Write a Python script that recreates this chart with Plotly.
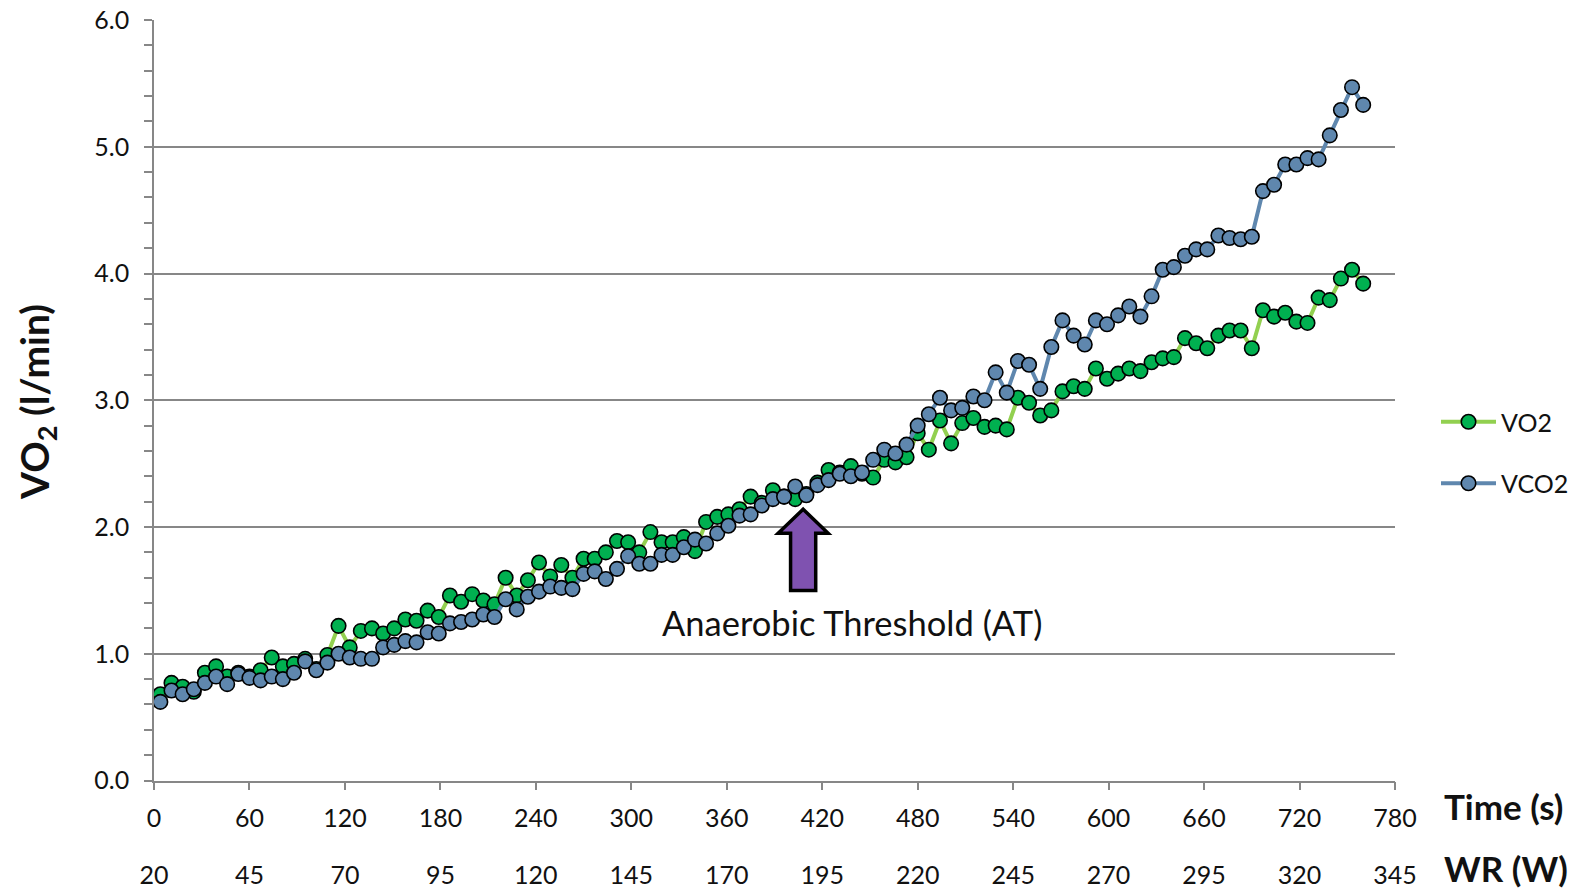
import plotly.graph_objects as go

# Sample times (s) of the breath-averaged gas exchange data
time_s = [
    4, 11, 18, 25, 32, 39, 46, 53, 60, 67, 74, 81, 88, 95, 102, 109, 116, 123,
    130, 137, 144, 151, 158, 165, 172, 179, 186, 193, 200, 207, 214, 221, 228,
    235, 242, 249, 256, 263, 270, 277, 284, 291, 298, 305, 312, 319, 326, 333,
    340, 347, 354, 361, 368, 375, 382, 389, 396, 403, 410, 417, 424, 431, 438,
    445, 452, 459, 466, 473, 480, 487, 494, 501, 508, 515, 522, 529, 536, 543,
    550, 557, 564, 571, 578, 585, 592, 599, 606, 613, 620, 627, 634, 641, 648,
    655, 662, 669, 676, 683, 690, 697, 704, 711, 718, 725, 732, 739, 746, 753,
    760,
]

# Oxygen uptake (l/min)
vo2 = [
    0.68, 0.77, 0.74, 0.70, 0.85, 0.90, 0.82, 0.85, 0.82, 0.87, 0.97, 0.90,
    0.92, 0.96, 0.88, 0.99, 1.22, 1.05, 1.18, 1.20, 1.16, 1.20, 1.27, 1.26,
    1.34, 1.29, 1.46, 1.41, 1.47, 1.42, 1.39, 1.60, 1.46, 1.58, 1.72, 1.61,
    1.70, 1.60, 1.75, 1.75, 1.80, 1.89, 1.88, 1.80, 1.96, 1.88, 1.88, 1.92,
    1.81, 2.04, 2.08, 2.10, 2.14, 2.24, 2.19, 2.29, 2.24, 2.22, 2.26, 2.35,
    2.45, 2.43, 2.48, 2.42, 2.39, 2.53, 2.51, 2.55, 2.74, 2.61, 2.84, 2.66,
    2.82, 2.86, 2.79, 2.80, 2.77, 3.02, 2.98, 2.88, 2.92, 3.07, 3.11, 3.09,
    3.25, 3.17, 3.21, 3.25, 3.23, 3.30, 3.33, 3.34, 3.49, 3.45, 3.41, 3.51,
    3.55, 3.55, 3.41, 3.71, 3.66, 3.69, 3.62, 3.61, 3.81, 3.79, 3.96, 4.03,
    3.92,
]

# Carbon dioxide output (l/min)
vco2 = [
    0.62, 0.71, 0.68, 0.72, 0.77, 0.82, 0.76, 0.84, 0.81, 0.79, 0.82, 0.80,
    0.85, 0.94, 0.87, 0.93, 1.00, 0.97, 0.96, 0.96, 1.05, 1.07, 1.10, 1.09,
    1.17, 1.16, 1.24, 1.25, 1.27, 1.31, 1.29, 1.43, 1.35, 1.45, 1.49, 1.53,
    1.52, 1.51, 1.63, 1.65, 1.59, 1.67, 1.77, 1.71, 1.71, 1.78, 1.78, 1.84,
    1.90, 1.87, 1.95, 2.01, 2.09, 2.10, 2.17, 2.22, 2.24, 2.32, 2.25, 2.33,
    2.37, 2.42, 2.40, 2.43, 2.53, 2.61, 2.58, 2.65, 2.80, 2.89, 3.02, 2.92,
    2.94, 3.03, 3.00, 3.22, 3.06, 3.31, 3.28, 3.09, 3.42, 3.63, 3.51, 3.44,
    3.63, 3.60, 3.67, 3.74, 3.66, 3.82, 4.03, 4.05, 4.14, 4.19, 4.19, 4.30,
    4.28, 4.27, 4.29, 4.65, 4.70, 4.86, 4.86, 4.91, 4.90, 5.09, 5.29, 5.47,
    5.33,
]

# Axis ticks: elapsed time and the matching ramp work rate
time_ticks = [0, 60, 120, 180, 240, 300, 360, 420, 480, 540, 600, 660, 720, 780]
wr_labels = ["20", "45", "70", "95", "120", "145", "170", "195", "220", "245",
             "270", "295", "320", "345"]

# Anaerobic threshold marker
at_time = 408
at_label = "Anaerobic Threshold (AT)"

FONT = "Lato"
TXT = "#111111"
AXIS_GREY = "#878787"
GREEN_LINE = "#92D050"
GREEN_FILL = "#00B050"
BLUE = "#5F87AE"
PURPLE = "#7F52B0"

W, H = 1583, 891
M_L, M_R, M_T, M_B = 154, 188, 20, 54
PW = W - M_L - M_R
PH = H - M_T - M_B
Y_BOTTOM_PX = 780.5


def paper_x(px):
    return (px - M_L) / PW


def paper_y(py):
    return (H - M_B - py) / PH


fig = go.Figure()

fig.add_trace(go.Scatter(
    x=time_s, y=vo2, name="VO2", mode="lines+markers",
    line=dict(color=GREEN_LINE, width=4),
    marker=dict(size=14.5, color=GREEN_FILL, line=dict(color="#000000", width=1.6)),
    legendgroup="a",
))
fig.add_trace(go.Scatter(
    x=time_s, y=vco2, name="VCO2", mode="lines+markers",
    line=dict(color=BLUE, width=4),
    marker=dict(size=14.5, color=BLUE, line=dict(color="#000000", width=1.6)),
    legendgroup="b",
))
# carrier for the work-rate tick row
fig.add_trace(go.Scatter(
    x=[time_ticks[0], time_ticks[-1]], y=[None, None], xaxis="x2",
    mode="lines", showlegend=False, hoverinfo="skip",
))

# Upward arrow pointing at the threshold
tip_y, head_y, tail_y = 2.14, 1.95, 1.50
head_hw, shaft_hw = 15.7, 7.9
arrow_path = (
    f"M {at_time},{tip_y} L {at_time + head_hw},{head_y} L {at_time + shaft_hw},{head_y} "
    f"L {at_time + shaft_hw},{tail_y} L {at_time - shaft_hw},{tail_y} "
    f"L {at_time - shaft_hw},{head_y} L {at_time - head_hw},{head_y} Z"
)
fig.add_shape(type="path", path=arrow_path, xref="x", yref="y",
              fillcolor=PURPLE, line=dict(color="#000000", width=3.5), layer="above")

fig.add_annotation(x=439, y=1.25, xref="x", yref="y", text=at_label,
                   showarrow=False, font=dict(family=FONT, size=34.5, color=TXT))

# axis titles
fig.add_annotation(x=paper_x(37), y=paper_y(402), xref="paper", yref="paper",
                   xanchor="center", yanchor="middle",
                   text="<b>VO<sub>2</sub> (l/min)</b>", textangle=-90, showarrow=False,
                   font=dict(family=FONT, size=39, color=TXT))
fig.add_annotation(x=paper_x(1442), y=paper_y(806), xref="paper", yref="paper",
                   text="<b>Time (s)</b>", xanchor="left", yanchor="middle",
                   showarrow=False, font=dict(family=FONT, size=35, color=TXT))
fig.add_annotation(x=paper_x(1442), y=paper_y(868), xref="paper", yref="paper",
                   text="<b>WR (W)</b>", xanchor="left", yanchor="middle",
                   showarrow=False, font=dict(family=FONT, size=35, color=TXT))

y_dom0 = paper_y(Y_BOTTOM_PX)

fig.update_layout(
    width=W, height=H,
    margin=dict(l=M_L, r=M_R, t=M_T, b=M_B, autoexpand=False),
    paper_bgcolor="white", plot_bgcolor="white",
    font=dict(family=FONT, color=TXT),
    xaxis=dict(
        range=[0, 780], tickvals=time_ticks, ticktext=[str(t) for t in time_ticks],
        showgrid=False, zeroline=False, automargin=False,
        showline=True, linecolor=AXIS_GREY, linewidth=1.5,
        ticks="outside", ticklen=8, tickwidth=1.5, tickcolor=AXIS_GREY,
        ticklabelstandoff=7,
        tickfont=dict(family=FONT, size=25, color=TXT),
        anchor="y",
    ),
    xaxis2=dict(
        range=[0, 780], overlaying="x", anchor="free", position=0,
        tickvals=time_ticks, ticktext=wr_labels, automargin=False,
        showgrid=False, zeroline=False, showline=False,
        ticks="outside", ticklen=8, tickcolor="rgba(0,0,0,0)",
        ticklabelstandoff=8,
        tickfont=dict(family=FONT, size=25, color=TXT),
    ),
    yaxis=dict(
        domain=[y_dom0, 1], range=[0, 6], dtick=1, tickformat=".1f",
        showgrid=True, gridcolor=AXIS_GREY, gridwidth=1.5, zeroline=False,
        showline=True, linecolor=AXIS_GREY, linewidth=1.5, automargin=False,
        ticks="outside", ticklen=8, tickwidth=1.5, tickcolor=AXIS_GREY,
        ticklabelstandoff=10,
        minor=dict(dtick=0.2, ticks="outside", ticklen=8, tickwidth=1.5,
                   tickcolor=AXIS_GREY, showgrid=False),
        tickfont=dict(family=FONT, size=25, color=TXT),
    ),
    legend=dict(
        x=paper_x(1436), y=paper_y(399), xanchor="left", yanchor="top",
        font=dict(family=FONT, size=25, color=TXT),
        tracegroupgap=26, itemwidth=55, bgcolor="rgba(0,0,0,0)",
    ),
    showlegend=True,
)

fig.write_html("out.html")
